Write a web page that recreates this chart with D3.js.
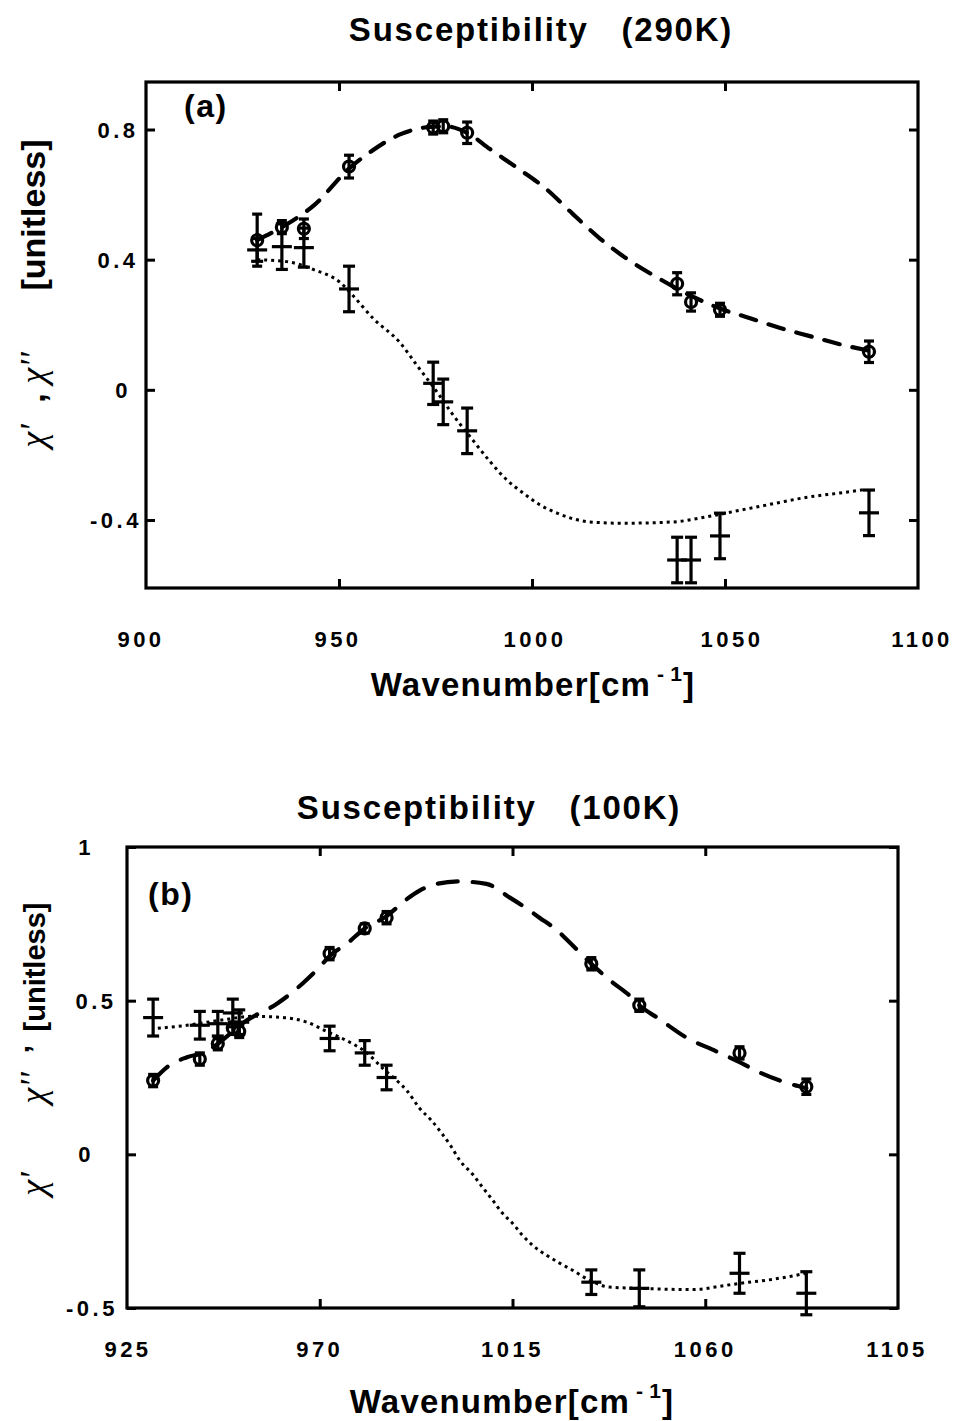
<!DOCTYPE html>
<html>
<head>
<meta charset="utf-8">
<script src="https://cdn.jsdelivr.net/npm/d3@7"></script>
<style>
  html, body { margin: 0; padding: 0; background: #fff; }
  svg { display: block; }
</style>
</head>
<body>
<svg id="chart" width="960" height="1421"></svg>
<script>
// ---------------- Panel (a): 290K ----------------
const title290 = "Susceptibility   (290K)";
const ticksX290 = [900, 950, 1000, 1050, 1100];
const ticksY290 = [-0.4, 0, 0.4, 0.8];
const tickLabelsY290 = ["-0.4", "0", "0.4", "0.8"];

const wn290 = [928.8, 935.2, 940.9, 952.6, 974.4, 977.0, 983.2, 1037.6, 1041.2, 1048.7, 1087.3];
const chiRe290 = [0.46, 0.50, 0.495, 0.686, 0.806, 0.81, 0.79, 0.326, 0.27, 0.246, 0.117];
const chiReErr290 = [0.08, 0.02, 0.03, 0.035, 0.02, 0.02, 0.033, 0.034, 0.028, 0.02, 0.033];
const chiIm290 = [0.43, 0.44, 0.437, 0.31, 0.02, -0.037, -0.126, -0.523, -0.523, -0.449, -0.378];
const chiImErr290 = [0.035, 0.07, 0.06, 0.07, 0.065, 0.07, 0.07, 0.07, 0.07, 0.07, 0.07];

const fitWnRe290 = [928.8, 935.2, 943.8, 952.6, 958.0, 965.8, 973.6, 977.5, 983.2, 989.1, 996.4, 1003.4, 1010.6, 1017.6, 1024.9, 1033.2, 1041.0, 1048.7, 1056.5, 1064.3, 1072.0, 1079.8, 1087.3];
const fitRe290 = [0.46, 0.50, 0.57, 0.68, 0.73, 0.785, 0.808, 0.81, 0.79, 0.74, 0.68, 0.62, 0.54, 0.465, 0.40, 0.34, 0.29, 0.25, 0.22, 0.19, 0.165, 0.14, 0.12];
const fitWnIm290 = [928.8, 936.5, 943.3, 950.3, 953.6, 958.8, 965.8, 970.2, 976.2, 978.8, 984.7, 989.1, 993.5, 997.7, 1002.1, 1006.5, 1015.0, 1023.6, 1036.5, 1045.4, 1053.9, 1062.5, 1071.3, 1079.8, 1085.8];
const fitIm290 = [0.40, 0.394, 0.37, 0.33, 0.29, 0.22, 0.145, 0.075, -0.02, -0.065, -0.155, -0.22, -0.277, -0.317, -0.354, -0.379, -0.406, -0.41, -0.406, -0.39, -0.37, -0.35, -0.33, -0.317, -0.307];

// ---------------- Panel (b): 100K ----------------
const title100 = "Susceptibility   (100K)";
const ticksX100 = [925, 970, 1015, 1060, 1105];
const ticksY100 = [-0.5, 0, 0.5, 1];
const tickLabelsY100 = ["-0.5", "0", "0.5", "1"];

const wn100 = [931.1, 942.0, 946.2, 949.7, 951.2, 972.3, 980.5, 985.6, 1033.4, 1044.6, 1068.0, 1083.6];
const chiRe100 = [0.24, 0.31, 0.36, 0.41, 0.40, 0.653, 0.735, 0.77, 0.62, 0.485, 0.33, 0.22];
const chiReErr100 = [0.02, 0.02, 0.02, 0.02, 0.02, 0.02, 0.015, 0.02, 0.02, 0.02, 0.02, 0.025];
const chiIm100 = [0.445, 0.42, 0.425, 0.46, 0.43, 0.377, 0.33, 0.25, -0.416, -0.436, -0.387, -0.452];
const chiImErr100 = [0.06, 0.045, 0.04, 0.045, 0.04, 0.04, 0.04, 0.04, 0.04, 0.06, 0.065, 0.07];

const fitWnRe100 = [931.1, 934.3, 939.0, 943.7, 946.2, 953.0, 960.0, 966.0, 970.0, 972.3, 976.3, 980.5, 985.6, 990.3, 993.3, 997.3, 1002.7, 1008.9, 1014.3, 1018.3, 1021.3, 1025.3, 1028.3, 1033.4, 1038.3, 1042.3, 1044.6, 1049.3, 1055.6, 1062.6, 1068.0, 1072.6, 1079.6, 1083.6];
const fitRe100 = [0.24, 0.283, 0.316, 0.335, 0.36, 0.436, 0.49, 0.556, 0.61, 0.645, 0.685, 0.735, 0.775, 0.83, 0.858, 0.88, 0.888, 0.88, 0.836, 0.80, 0.77, 0.73, 0.69, 0.62, 0.56, 0.517, 0.485, 0.44, 0.38, 0.335, 0.30, 0.267, 0.23, 0.215];
const fitWnIm100 = [932.2, 939.0, 946.7, 954.4, 960.7, 967.0, 971.6, 976.3, 981.0, 984.7, 988.0, 990.3, 993.3, 996.1, 998.5, 1000.8, 1002.7, 1005.7, 1008.0, 1010.4, 1012.7, 1015.0, 1017.3, 1019.7, 1022.9, 1026.0, 1029.0, 1033.0, 1037.6, 1044.6, 1057.0, 1064.9, 1068.0, 1075.6, 1083.6];
const fitIm100 = [0.41, 0.42, 0.436, 0.449, 0.446, 0.43, 0.40, 0.37, 0.33, 0.28, 0.24, 0.208, 0.15, 0.11, 0.068, 0.023, -0.02, -0.065, -0.107, -0.15, -0.192, -0.224, -0.263, -0.296, -0.328, -0.354, -0.377, -0.41, -0.432, -0.436, -0.44, -0.426, -0.42, -0.407, -0.387];

const xAxisTitle = "Wavenumber[cm";

// ---------------- drawing ----------------
const svg = d3.select("#chart");
const SANS = "'Liberation Sans', Arial, Helvetica, sans-serif";
const SERIF = "'Liberation Serif', 'Times New Roman', serif";

function drawPanel(cfg) {
  const x = d3.scaleLinear().domain(cfg.xDomain).range([cfg.left, cfg.right]);
  const y = d3.scaleLinear().domain(cfg.yDomain).range([cfg.bottom, cfg.top]);
  const g = svg.append("g");

  // title
  g.append("text").attr("x", cfg.titleX).attr("y", cfg.titleY)
    .attr("text-anchor", "middle").attr("font-family", SANS)
    .attr("font-weight", "bold").attr("font-size", 33).attr("letter-spacing", 1.8)
    .style("white-space", "pre").text(cfg.title);

  // axes with inward ticks
  const tl = 9;
  const axB = d3.axisBottom(x).tickValues(cfg.xTicks.slice(1, -1)).tickSize(-tl).tickFormat("");
  const axT = d3.axisTop(x).tickValues(cfg.xTicks.slice(1, -1)).tickSize(-tl).tickFormat("");
  const axL = d3.axisLeft(y).tickValues(cfg.yTicks).tickSize(-tl).tickFormat("");
  const axR = d3.axisRight(y).tickValues(cfg.yTicks).tickSize(-tl).tickFormat("");
  [[axB, `translate(0,${cfg.bottom})`], [axT, `translate(0,${cfg.top})`],
   [axL, `translate(${cfg.left},0)`], [axR, `translate(${cfg.right},0)`]].forEach(([ax, tr]) => {
    const a = g.append("g").attr("transform", tr).call(ax);
    a.select(".domain").remove();
    a.selectAll(".tick line").attr("stroke", "#000").attr("stroke-width", 3);
  });
  g.append("rect").attr("x", cfg.left).attr("y", cfg.top)
    .attr("width", cfg.right - cfg.left).attr("height", cfg.bottom - cfg.top)
    .attr("fill", "none").attr("stroke", "#000").attr("stroke-width", 3.2);

  // tick labels
  g.selectAll(".xl").data(cfg.xTicks).enter().append("text")
    .attr("x", (d, i) => x(d) + cfg.xLabelShift[i]).attr("y", cfg.xLabelY)
    .attr("text-anchor", "middle").attr("font-family", SANS).attr("font-weight", "bold")
    .attr("font-size", 22).attr("letter-spacing", 3.5).text(d => d);
  g.selectAll(".yl").data(cfg.yTicks).enter().append("text")
    .attr("x", (d, i) => cfg.yLabelX[i]).attr("y", d => y(d) + 8)
    .attr("text-anchor", "middle").attr("font-family", SANS).attr("font-weight", "bold")
    .attr("font-size", 22).attr("letter-spacing", 3.5).text((d, i) => cfg.yTickLabels[i]);

  // x axis title
  const xt = g.append("text").attr("x", cfg.xTitleX).attr("y", cfg.xTitleY)
    .attr("text-anchor", "middle").attr("font-family", SANS).attr("font-weight", "bold")
    .attr("font-size", 33).attr("letter-spacing", 1.2);
  xt.append("tspan").text(xAxisTitle);
  xt.append("tspan").attr("dy", -15).attr("font-size", 21).attr("dx", 6).text("-");
  xt.append("tspan").attr("font-size", 21).attr("dx", 5).text("1");
  xt.append("tspan").attr("dy", 15).text("]");

  // y axis title (rotated pieces)
  cfg.yTitleParts.forEach(p => {
    const t = g.append("text")
      .attr("transform", `translate(${cfg.yTitleX},${p.c}) rotate(-90)`)
      .attr("text-anchor", "middle").text(p.t);
    if (p.chi) t.attr("font-family", SERIF).attr("font-style", "italic").attr("font-size", 36);
    else t.attr("font-family", SANS).attr("font-weight", "bold").attr("font-size", p.size);
  });

  // panel label
  g.append("text").attr("x", cfg.tagX).attr("y", cfg.tagY).attr("font-family", SANS)
    .attr("font-weight", "bold").attr("font-size", 32).attr("letter-spacing", 1.5).text(cfg.tag);

  // fit curves
  const line = d3.line().x(d => x(d[0])).y(d => y(d[1])).curve(d3.curveMonotoneX);
  g.append("path").datum(d3.zip(cfg.fitWnRe, cfg.fitRe)).attr("d", line)
    .attr("fill", "none").attr("stroke", "#000").attr("stroke-width", 4.2)
    .attr("stroke-linecap", "round").attr("stroke-dasharray", cfg.dashRe);
  g.append("path").datum(d3.zip(cfg.fitWnIm, cfg.fitIm)).attr("d", line)
    .attr("fill", "none").attr("stroke", "#000").attr("stroke-width", 3)
    .attr("stroke-dasharray", cfg.dashIm);

  // data: chi'' crosses with error bars
  const cap = 6;
  cfg.wn.forEach((w, i) => {
    const cx = x(w), cy = y(cfg.im[i]);
    const y1 = y(cfg.im[i] + cfg.imErr[i]), y2 = y(cfg.im[i] - cfg.imErr[i]);
    const s = g.append("g").attr("stroke", "#000").attr("stroke-width", 3.2);
    s.append("line").attr("x1", cx).attr("x2", cx).attr("y1", y1).attr("y2", y2);
    s.append("line").attr("x1", cx - cap).attr("x2", cx + cap).attr("y1", y1).attr("y2", y1);
    s.append("line").attr("x1", cx - cap).attr("x2", cx + cap).attr("y1", y2).attr("y2", y2);
    s.append("line").attr("x1", cx - 10).attr("x2", cx + 10).attr("y1", cy).attr("y2", cy);
  });
  // data: chi' circles with error bars
  cfg.wn.forEach((w, i) => {
    const cx = x(w), cy = y(cfg.re[i]);
    const y1 = y(cfg.re[i] + cfg.reErr[i]), y2 = y(cfg.re[i] - cfg.reErr[i]);
    const s = g.append("g").attr("stroke", "#000").attr("stroke-width", 3.2);
    s.append("line").attr("x1", cx).attr("x2", cx).attr("y1", y1).attr("y2", y2);
    s.append("line").attr("x1", cx - 5).attr("x2", cx + 5).attr("y1", y1).attr("y2", y1);
    s.append("line").attr("x1", cx - 5).attr("x2", cx + 5).attr("y1", y2).attr("y2", y2);
    s.append("circle").attr("cx", cx).attr("cy", cy).attr("r", 5.5).attr("fill", "none");
  });
}

drawPanel({
  title: title290, titleX: 541, titleY: 41,
  left: 146, right: 918, top: 82, bottom: 588,
  xDomain: [900, 1100], yDomain: [-0.609, 0.946],
  xTicks: ticksX290, yTicks: ticksY290, yTickLabels: tickLabelsY290,
  xLabelY: 647, yLabelX: [116, 123, 118, 118], xLabelShift: [-5, -1, 3, 7, 4],
  xTitleX: 533, xTitleY: 696,
  yTitleX: 45,
  yTitleParts: [
    {t: "χ'", chi: true, c: 436},
    {t: ",", chi: false, c: 398, size: 34},
    {t: "χ''", chi: true, c: 368},
    {t: "[unitless]", chi: false, c: 215, size: 34}
  ],
  tag: "(a)", tagX: 184, tagY: 117,
  wn: wn290, re: chiRe290, reErr: chiReErr290, im: chiIm290, imErr: chiImErr290,
  fitWnRe: fitWnRe290, fitRe: fitRe290, fitWnIm: fitWnIm290, fitIm: fitIm290,
  dashRe: "16,13", dashIm: "3,4"
});

drawPanel({
  title: title100, titleX: 489, titleY: 819,
  left: 127, right: 898, top: 847, bottom: 1308,
  xDomain: [925, 1105], yDomain: [-0.5, 1],
  xTicks: ticksX100, yTicks: ticksY100, yTickLabels: tickLabelsY100,
  xLabelY: 1357, yLabelX: [92, 86, 96, 86], xLabelShift: [1, 0, 0, 0, -1],
  xTitleX: 512, xTitleY: 1413,
  yTitleX: 45,
  yTitleParts: [
    {t: "χ'", chi: true, c: 1184},
    {t: "χ''", chi: true, c: 1088},
    {t: "’", chi: false, c: 1049, size: 30},
    {t: "[unitless]", chi: false, c: 967, size: 29}
  ],
  tag: "(b)", tagX: 148, tagY: 905,
  wn: wn100, re: chiRe100, reErr: chiReErr100, im: chiIm100, imErr: chiImErr100,
  fitWnRe: fitWnRe100, fitRe: fitRe100, fitWnIm: fitWnIm100, fitIm: fitIm100,
  dashRe: "20,15", dashIm: "3,4"
});
</script>
</body>
</html>
